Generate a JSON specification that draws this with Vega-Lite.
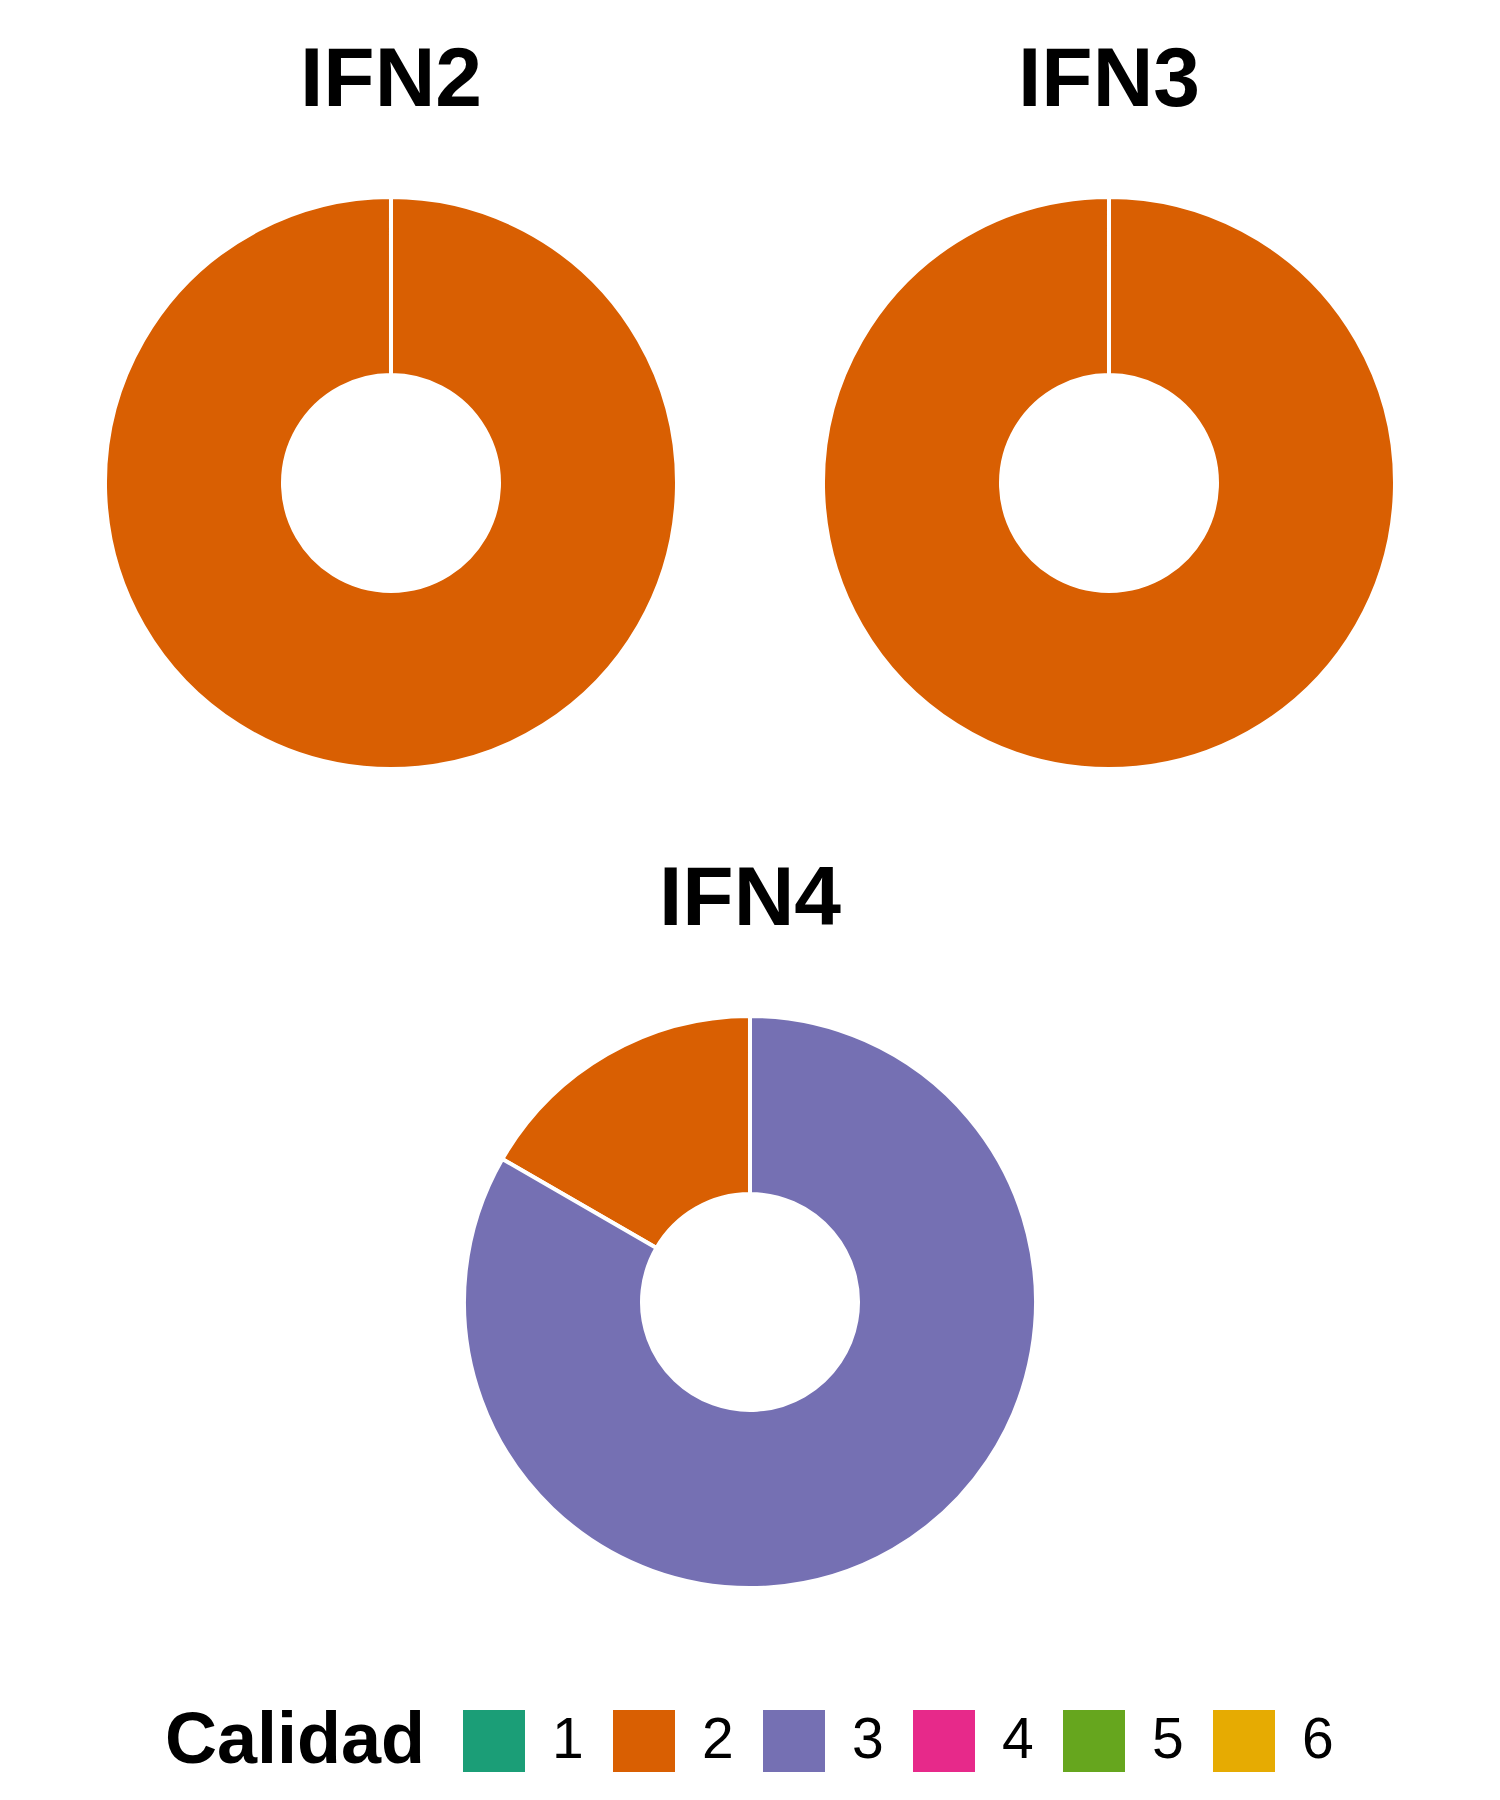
{
  "$schema": "https://vega.github.io/schema/vega-lite/v6.json",
  "background": "white",
  "padding": {"left": 91, "top": 39, "right": 0, "bottom": 0},
  "data": {
    "values": [
      {"inventario": "IFN2", "Calidad": "2", "n": 1},
      {"inventario": "IFN3", "Calidad": "2", "n": 1},
      {"inventario": "IFN4", "Calidad": "2", "n": 1},
      {"inventario": "IFN4", "Calidad": "3", "n": 5}
    ]
  },
  "spacing": 75,
  "center": true,
  "vconcat": [
    {
      "spacing": 118,
      "hconcat": [
        {
          "title": "IFN2",
          "width": 600,
          "height": 600,
          "transform": [{"filter": "datum.inventario === 'IFN2'"}],
          "mark": {"type": "arc", "outerRadius": 286, "innerRadius": 108, "stroke": "white", "strokeWidth": 4},
          "encoding": {
            "theta": {"field": "n", "type": "quantitative", "stack": "normalize", "scale": {"range": [0, 6.2831]}},
            "order": {"field": "Calidad", "sort": "descending"},
            "color": {"field": "Calidad", "type": "nominal"}
          }
        },
        {
          "title": "IFN3",
          "width": 600,
          "height": 600,
          "transform": [{"filter": "datum.inventario === 'IFN3'"}],
          "mark": {"type": "arc", "outerRadius": 286, "innerRadius": 108, "stroke": "white", "strokeWidth": 4},
          "encoding": {
            "theta": {"field": "n", "type": "quantitative", "stack": "normalize", "scale": {"range": [0, 6.2831]}},
            "order": {"field": "Calidad", "sort": "descending"},
            "color": {"field": "Calidad", "type": "nominal"}
          }
        }
      ]
    },
    {
      "title": "IFN4",
      "width": 600,
      "height": 600,
      "transform": [{"filter": "datum.inventario === 'IFN4'"}],
      "mark": {"type": "arc", "outerRadius": 286, "innerRadius": 108, "stroke": "white", "strokeWidth": 4},
      "encoding": {
        "theta": {"field": "n", "type": "quantitative", "stack": "normalize", "scale": {"range": [0, 6.2831]}},
        "order": {"field": "Calidad", "sort": "descending"},
        "color": {
          "field": "Calidad",
          "type": "nominal",
          "scale": {
            "domain": ["1", "2", "3", "4", "5", "6"],
            "range": ["#1b9e77", "#d95f02", "#7570b3", "#e7298a", "#66a61e", "#e6ab02"]
          },
          "legend": {
            "orient": "none",
            "legendX": 74,
            "legendY": 1527,
            "direction": "horizontal",
            "titleOrient": "left",
            "titleLimit": 500,
            "symbolType": "square",
            "symbolSize": 3844,
            "symbolStrokeWidth": 0,
            "symbolOpacity": 1,
            "labelFontSize": 57,
            "labelFont": "Liberation Sans",
            "labelColor": "black",
            "labelOffset": 27,
            "columnPadding": 29,
            "titleFontSize": 72,
            "titleFont": "Liberation Sans",
            "titleFontWeight": "bold",
            "titleColor": "black",
            "titlePadding": 37
          }
        }
      }
    }
  ],
  "config": {
    "view": {"stroke": null},
    "title": {"font": "Liberation Sans", "fontSize": 84, "fontWeight": "bold", "color": "black", "offset": 59, "anchor": "middle"}
  }
}
